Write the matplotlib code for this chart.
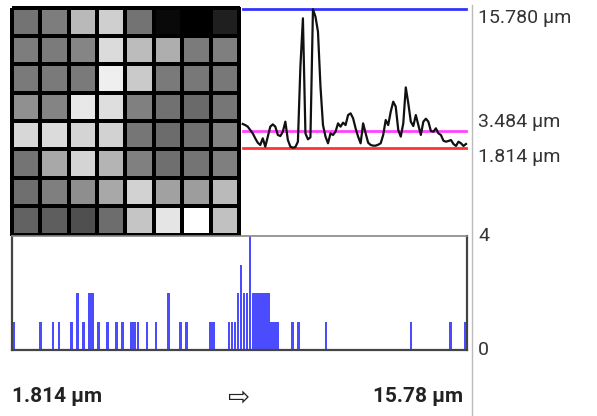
import matplotlib
matplotlib.use("Agg")
import matplotlib.pyplot as plt
import numpy as np
from matplotlib.lines import Line2D
from matplotlib.transforms import blended_transform_factory

# 8x8 map of heights (µm), row 0 at top
grid = np.array([
    [9.50, 8.94, 5.68, 4.47, 9.50, 15.27, 15.78, 14.06],
    [8.94, 9.03, 8.47, 3.82, 5.49, 6.24, 9.03, 8.84],
    [9.12, 9.12, 9.12, 2.70, 4.75, 9.12, 9.22, 9.22],
    [7.91, 8.57, 3.07, 3.63, 8.75, 9.59, 9.96, 9.31],
    [4.00, 3.82, 4.19, 4.28, 9.31, 9.87, 9.59, 8.66],
    [9.40, 6.61, 4.19, 5.96, 8.75, 9.68, 9.40, 8.84],
    [9.68, 8.84, 8.01, 6.61, 4.28, 6.98, 7.17, 5.59],
    [10.43, 10.61, 11.45, 9.78, 5.03, 3.26, 1.814, 5.21],
])

# line profile (µm)
profile = [4.21, 4.10, 3.94, 3.60, 3.26, 2.76, 2.32, 2.09, 2.76, 1.92,
           2.93, 3.94, 4.17, 3.94, 3.10, 2.99, 3.43, 4.44, 2.59, 1.92,
           1.814, 1.88, 2.42, 9.99, 14.87, 3.26, 2.66, 2.86, 15.78, 15.04,
           13.52, 7.97, 4.10, 2.93, 2.26, 3.26, 3.10, 3.43, 4.27, 3.94,
           4.34, 4.10, 5.11, 5.28, 4.78, 3.77, 2.93, 2.26, 4.27, 3.26,
           2.32, 2.09, 2.02, 2.02, 2.12, 2.26, 3.10, 4.61, 4.10, 5.45,
           6.46, 5.95, 3.60, 2.93, 4.27, 7.90, 6.29, 4.44, 4.00, 5.11,
           4.10, 3.10, 4.44, 4.74, 4.44, 3.50, 3.43, 3.77, 3.26, 3.10,
           2.52, 2.42, 2.49, 2.59, 2.19, 1.99, 2.42, 2.26, 1.99, 2.19]

val_max = 15.780
val_mean = 3.484
val_min = 1.814
n_bins = 150
hist_top = 4

W, H = 597, 416
fig = plt.figure(figsize=(W / 100, H / 100), dpi=100)
plt.rcParams['font.family'] = ['Roboto', 'DejaVu Sans']


def box(x0, y0, x1, y1):
    # pixel box (top-left origin) -> figure fraction
    return [x0 / W, 1 - y1 / H, (x1 - x0) / W, (y1 - y0) / H]


# heat map
axm = fig.add_axes(box(12, 7.5, 239, 234.5))
mesh = axm.pcolormesh(grid, cmap='gray_r', vmin=val_min, vmax=val_max,
                      edgecolors='black', linewidth=1.6)
mesh.set_clip_on(False)
axm.set_xlim(0, 8)
axm.set_ylim(8, 0)
axm.axis('off')

# profile
axl = fig.add_axes(box(242.7, 9.3, 466, 147.7))
axl.plot(range(len(profile)), profile, color='#111111', lw=1.6, clip_on=False, zorder=3)
axl.axhline(val_max, color='#3333ff', lw=2, clip_on=False)
axl.axhline(val_mean, color='#ff44ff', lw=2, clip_on=False)
axl.axhline(val_min, color='#ff3333', lw=2, clip_on=False)
axl.set_xlim(0, len(profile) - 1)
axl.set_ylim(val_min, val_max)
axl.axis('off')

tr = blended_transform_factory(fig.transFigure, axl.transData)
lab_x = 478 / W
axl.text(lab_x, val_max, '%.3f µm' % val_max, transform=tr, ha='left', va='top',
         fontsize=14, color='#333333')
axl.text(lab_x, val_mean, '%.3f µm' % val_mean, transform=tr, ha='left', va='bottom',
         fontsize=14, color='#333333')
axl.text(lab_x, val_min, '%.3f µm' % val_min, transform=tr, ha='left', va='top',
         fontsize=14, color='#333333')

# histogram
axh = fig.add_axes(box(12, 236, 467, 350))
axh.hist(grid.ravel(), bins=n_bins, range=(val_min, val_max), color='blue', alpha=0.7,
         rwidth=0.9)
axh.set_xlim(val_min, val_max)
axh.set_ylim(0, hist_top)
axh.set_xticks([])
axh.set_yticks([])
for side in ['left', 'right', 'bottom']:
    axh.spines[side].set_color('#444444')
    axh.spines[side].set_linewidth(1.6)
axh.spines['top'].set_color('#888888')
axh.spines['top'].set_linewidth(1.2)

trh = blended_transform_factory(fig.transFigure, axh.transData)
axh.text(lab_x, hist_top, str(hist_top), transform=trh, ha='left', va='center',
         fontsize=14, color='#333333')
axh.text(lab_x, 0, '0', transform=trh, ha='left', va='center',
         fontsize=14, color='#333333')

# separator on the right
fig.add_artist(Line2D([472 / W, 472 / W], [0, 1 - 5 / H], color='#bbbbbb', lw=1))

# range captions
ty = 1 - 397 / H
fig.text(12 / W, ty, '%.3f µm' % val_min, ha='left', va='center', fontsize=15,
         fontweight='bold', color='#222222')
fig.text(238 / W, ty - 0.004, '⇨', ha='center', va='center', fontsize=19,
         family=['DejaVu Sans'], color='#222222')
fig.text(463 / W, ty, '%.2f µm' % val_max, ha='right', va='center', fontsize=15,
         fontweight='bold', color='#222222')

fig.savefig('out.png', dpi=100)
